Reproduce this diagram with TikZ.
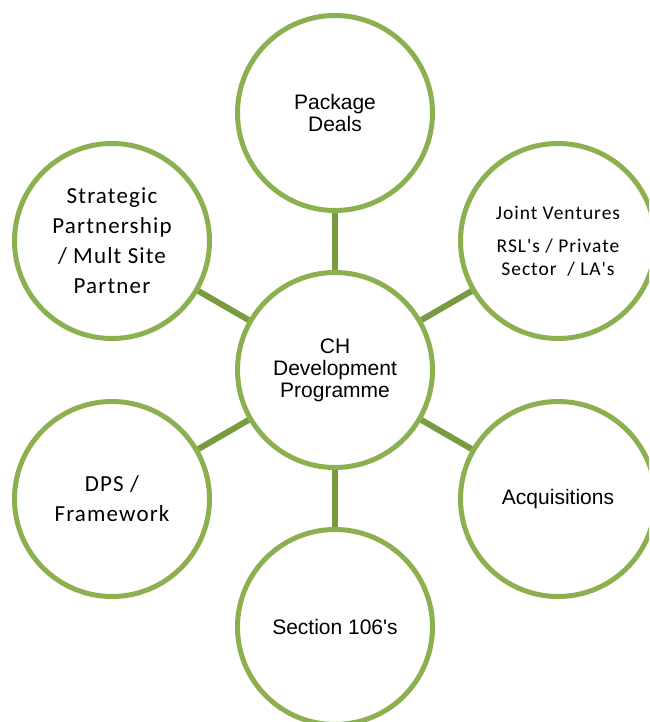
\documentclass[tikz,border=0pt]{standalone}
\usepackage{fontspec}
\setmainfont{Liberation Sans}[Ligatures=TeXOff]
\newfontfamily\calfont[LetterSpace=5,Ligatures=TeXOff]{Carlito}
\definecolor{ringgreen}{HTML}{8CB050}
\definecolor{spokegreen}{HTML}{7A9A40}
\tikzset{
  ring/.style={circle, draw=ringgreen, line width=5pt, fill=white, minimum size=195pt, inner sep=0pt, align=center},
  arialtxt/.style={font=\fontsize{21}{22}\selectfont},
  caltxt/.style={font=\calfont\fontsize{23}{30}\selectfont},
  spoke/.style={draw=spokegreen, line width=6pt}
}
\begin{document}
\begin{tikzpicture}[x=1pt,y=-1pt]
\useasboundingbox (0,0) rectangle (649,722);
\clip (0,0) rectangle (649,722);
\node[ring, arialtxt] (ctr) at (335,370) {CH\\Development\\Programme};
\node[ring, arialtxt] (top) at (335,113) {Package\\Deals};
\node[ring, arialtxt] (bot) at (335,627) {Section 106's};
\node[ring, caltxt] (ul) at (112,241) {Strategic\\Partnership\\/ Mult Site\\Partner};
\node[ring, caltxt] (ll) at (112,499) {DPS /\\Framework};
\node[ring, font=\calfont\fontsize{19.5}{23}\selectfont] (ur) at (558,241) {Joint Ventures\\[10pt]RSL's / Private\\Sector\ \ / LA's};
\node[ring, arialtxt] (lr) at (558,499) {Acquisitions};
\foreach \n in {top,bot,ul,ll,ur,lr}{
  \path[spoke] (ctr) -- (\n);
}
\end{tikzpicture}
\end{document}
